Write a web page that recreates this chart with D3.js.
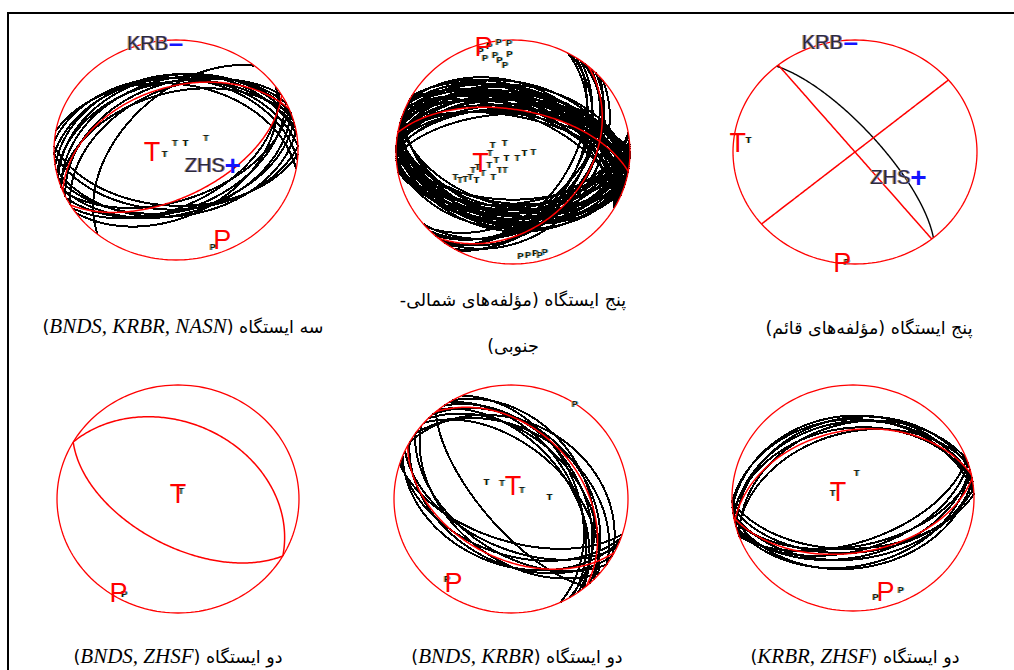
<!DOCTYPE html>
<html>
<head>
<meta charset="utf-8">
<script src="https://cdn.jsdelivr.net/npm/d3@7"></script>
<style>
  body { margin: 0; background: #fff; }
  #fig { position: relative; width: 1014px; height: 670px; overflow: hidden; background: #fff; }
  .cap { position: absolute; white-space: nowrap; transform: translate(-50%, -50%);
         font-family: "DejaVu Sans", sans-serif; font-size: 17.5px; color: #000; text-align: center; line-height: 46px; }
  .cap i { font-family: "Liberation Serif", serif; font-size: 21px; }
</style>
</head>
<body>
<div id="fig"></div>
<script>
// ---- Focal-mechanism solutions: nodal planes as [strike, dip] (degrees) ----
// Best-fit planes (red) and acceptable trial planes (black) for each station set.
const p1Best = [[248, 43], [60, 56]];
const p1Trials = [
  [240, 45], [245, 40], [250, 36], [252, 47], [255, 33], [258, 38], [262, 32], [268, 35], [275, 35], [280, 40],
  [55, 42], [58, 50], [64, 46], [68, 53], [70, 42], [75, 44], [80, 40], [88, 45], [92, 48],
  [220, 52]
];
const p2Best = [[280, 59], [40, 36]];
const p2Trials = [
  [268, 62], [270, 55], [272, 50], [273, 47], [275, 60], [276, 40], [278, 45], [280, 52], [281, 43], [282, 64], [284, 48],
  [285, 38], [286, 56], [288, 42], [289, 53], [290, 60], [292, 50], [294, 62], [295, 45], [297, 40], [298, 55], [300, 48],
  [271, 58], [274, 52], [277, 49], [279, 57], [283, 46], [287, 51], [291, 44], [293, 57], [296, 52], [299, 44], [279, 62],
  [80, 45], [82, 52], [84, 40], [86, 33], [88, 50], [90, 55], [92, 35], [95, 42], [96, 52], [98, 30], [100, 48],
  [102, 32], [104, 38], [108, 44], [110, 40],
  [81, 48], [85, 44], [87, 37], [91, 47], [93, 40], [97, 45], [99, 36], [101, 43], [105, 50], [106, 34],
  [28, 44], [30, 40], [33, 50], [35, 45], [36, 30], [38, 35], [42, 42], [45, 38], [48, 46], [50, 34]
];
const p3Best = [[141, 90], [50, 90]];
const p3Trials = [[320, 74]];
const p4Best = [[300, 35], [120, 57]];
const p4Trials = [];
const p5Best = [[320, 40], [118, 47]];
const p5Trials = [
  [312, 52], [315, 45], [318, 38], [322, 50], [325, 42], [328, 47], [330, 36], [335, 44], [305, 40],
  [108, 60], [110, 50], [112, 42], [115, 55], [120, 44], [125, 52], [130, 48],
  [140, 70], [300, 33]
];
const p6Best = [[258, 40], [80, 50]];
const p6Trials = [
  [250, 35], [255, 30], [260, 33], [265, 28], [252, 42], [262, 38], [268, 31],
  [70, 58], [72, 52], [75, 47], [78, 55], [82, 45], [85, 50], [88, 53], [75, 40], [80, 38]
];

// ---- T and P axes as [trend, plunge]; the first entry is the best solution ----
const p1T = [[265, 74], [248, 82], [352, 85], [52, 82], [66, 68]];
const p1P = [[155, 11], [161, 8]];
const p2T = [[251, 66], [246, 45], [241, 47], [240, 51], [239, 55], [245, 59], [246, 63], [267, 74], [290, 75],
             [320, 81], [228, 84], [243, 77], [215, 74], [203, 76], [143, 85], [95, 82], [90, 76], [217, 67],
             [231, 57], [234, 64], [240, 71]];
const p2P = [[345, 3], [343, 6], [348, 3], [353, 1], [358, 3], [352, 18], [355, 23], [350, 13], [344, 14], [358, 13],
             [176, 8], [172, 8], [168, 9], [163, 8], [166, 6]];
const p3T = [[275, 4], [277, 13]];
const p3P = [[186, 1], [184, 2]];
const p4T = [[0, 86], [20, 84]];
const p4P = [[211, 5], [208, 6]];
const p5T = [[8, 80], [306, 69], [331, 77], [50, 80], [87, 63]];
const p5P = [[214, 13], [218, 12], [33, 0]];
const p6T = [[293, 79], [285, 76], [8, 72]];
const p6P = [[162, 14], [168, 12], [154, 11]];

// ---- Station polarities: [name, polarity, trend, plunge] ----
const p1Stations = [["KRB", "-", 0, 3], ["ZHS", "+", 106, 50]];
const p3Stations = [["KRB", "-", 358, 2], ["ZHS", "+", 113, 43]];

// ---- Captions ----
const capPersian = [
  "سه ایستگاه",
  "پنج ایستگاه (مؤلفه‌های شمالی-|جنوبی)",
  "پنج ایستگاه (مؤلفه‌های قائم)",
  "دو ایستگاه",
  "دو ایستگاه",
  "دو ایستگاه"
];
const capStations = ["BNDS, KRBR, NASN", null, null, "BNDS, ZHSF", "BNDS, KRBR", "KRBR, ZHSF"];

// ---- Layout of the six stereonets ----
const layout = [
  { cx: 176, cy: 150, rx: 122, ry: 110, capX: 183, capY: 326 },
  { cx: 513, cy: 152, rx: 117, ry: 112, capX: 513, capY: 323 },
  { cx: 855, cy: 152, rx: 122, ry: 112, capX: 869, capY: 328 },
  { cx: 178, cy: 499, rx: 121, ry: 114, capX: 178, capY: 656 },
  { cx: 511, cy: 499, rx: 117, ry: 114, capX: 517, capY: 656 },
  { cx: 853, cy: 498, rx: 121, ry: 113, capX: 855, capY: 656 }
];

const panels = [
  { best: p1Best, trials: p1Trials, T: p1T, P: p1P, stations: p1Stations },
  { best: p2Best, trials: p2Trials, T: p2T, P: p2P, stations: [] },
  { best: p3Best, trials: p3Trials, T: p3T, P: p3P, stations: p3Stations },
  { best: p4Best, trials: p4Trials, T: p4T, P: p4P, stations: [] },
  { best: p5Best, trials: p5Trials, T: p5T, P: p5P, stations: [] },
  { best: p6Best, trials: p6Trials, T: p6T, P: p6P, stations: [] }
];

// Lower-hemisphere equal-area (Schmidt) net; the vertical axis is the projection centre.
function makeProjection(L) {
  const ky = L.ry / L.rx;
  const raw = (x, y) => { const p = d3.geoAzimuthalEqualAreaRaw(x, y); return [p[0], p[1] * ky]; };
  return d3.geoProjection(raw)
    .rotate([0, -90])
    .clipAngle(90)
    .scale(L.rx / Math.SQRT2)
    .translate([L.cx, L.cy])
    .precision(0.2);
}
// A line with a given trend/plunge as a point on the sphere.
const toLonLat = (trend, plunge) => [180 - trend, plunge];

// Great circle of a plane: all directions 90 degrees from its pole.
function planeLine(strike, dip) {
  const ring = d3.geoCircle()
    .center(toLonLat(strike - 90, 90 - dip))
    .radius(90)
    .precision(1)().coordinates[0];
  return { type: "LineString", coordinates: ring };
}

const fig = d3.select("#fig");
const svg = fig.append("svg")
  .attr("width", 1014).attr("height", 670)
  .style("position", "absolute").style("left", 0).style("top", 0);

// Colour-fringe filter for the small dark labels
const defs = svg.append("defs");
function fringeFilter(id, left, right) {
  const f = defs.append("filter").attr("id", id)
    .attr("x", "-30%").attr("y", "-30%").attr("width", "160%").attr("height", "160%");
  f.append("feOffset").attr("in", "SourceAlpha").attr("dx", -1).attr("dy", 0).attr("result", "aL");
  f.append("feFlood").attr("flood-color", left).attr("result", "cL");
  f.append("feComposite").attr("in", "cL").attr("in2", "aL").attr("operator", "in").attr("result", "fL");
  f.append("feOffset").attr("in", "SourceAlpha").attr("dx", 1).attr("dy", 0).attr("result", "aR");
  f.append("feFlood").attr("flood-color", right).attr("result", "cR");
  f.append("feComposite").attr("in", "cR").attr("in2", "aR").attr("operator", "in").attr("result", "fR");
  const m = f.append("feMerge");
  m.append("feMergeNode").attr("in", "fL");
  m.append("feMergeNode").attr("in", "fR");
  m.append("feMergeNode").attr("in", "SourceGraphic");
}
fringeFilter("fringe", "#f2a53a", "#49b9ee");
fringeFilter("fringeStation", "#d9a050", "#6a7ad8");

// Table frame
svg.append("path")
  .attr("d", "M8,670V13H1014")
  .attr("fill", "none").attr("stroke", "#000").attr("stroke-width", 2);

panels.forEach((pd, i) => {
  const L = layout[i];
  const proj = makeProjection(L);
  const path = d3.geoPath(proj);
  const g = svg.append("g");

  // trial nodal planes
  g.selectAll("path.trial").data(pd.trials).join("path")
    .attr("class", "trial")
    .attr("d", d => path(planeLine(d[0], d[1])))
    .attr("fill", "none").attr("stroke", "#000").attr("stroke-width", i === 2 ? 1.4 : 2)
    .attr("shape-rendering", i === 2 ? "auto" : "crispEdges");

  // primitive circle
  g.append("path").datum({ type: "Sphere" })
    .attr("d", path)
    .attr("fill", "none").attr("stroke", "#f00").attr("stroke-width", 1.3);

  // best nodal planes
  g.selectAll("path.best").data(pd.best).join("path")
    .attr("class", "best")
    .attr("d", d => path(planeLine(d[0], d[1])))
    .attr("fill", "none").attr("stroke", "#f00").attr("stroke-width", 1.5);

  // alternative T/P axes
  [["T", pd.T], ["P", pd.P]].forEach(([ch, arr]) => {
    g.selectAll(null).data(arr.slice(1)).join("text")
      .attr("x", d => proj(toLonLat(d[0], d[1]))[0])
      .attr("y", d => proj(toLonLat(d[0], d[1]))[1])
      .attr("text-anchor", "middle").attr("dy", "0.35em")
      .attr("font-family", "Liberation Sans, Arial, sans-serif")
      .attr("font-weight", "bold")
      .attr("font-size", 9)
      .attr("fill", "#1a1a1a")
      .attr("filter", "url(#fringe)")
      .text(ch);
  });
  // best T/P axes
  [["T", pd.T[0]], ["P", pd.P[0]]].forEach(([ch, d]) => {
    const [x, y] = proj(toLonLat(d[0], d[1]));
    g.append("text")
      .attr("x", x).attr("y", y)
      .attr("text-anchor", "middle").attr("dy", "0.35em")
      .attr("font-family", "Liberation Sans, Arial, sans-serif")
      .attr("font-size", 27)
      .attr("fill", "#f00")
      .text(ch);
  });

  // station polarities
  pd.stations.forEach(s => {
    const [x, y] = proj(toLonLat(s[2], s[3]));
    g.append("text")
      .attr("x", x - 8).attr("y", y)
      .attr("text-anchor", "end").attr("dy", "0.36em")
      .attr("font-family", "Liberation Sans, Arial, sans-serif")
      .attr("font-size", 20)
      .attr("fill", "#2a2a3a")
      .attr("filter", "url(#fringeStation)")
      .text(s[0]);
    g.append("text")
      .attr("x", x).attr("y", y)
      .attr("text-anchor", "middle").attr("dy", "0.36em")
      .attr("font-family", "Liberation Sans, Arial, sans-serif")
      .attr("font-weight", "bold")
      .attr("font-size", s[1] === "+" ? 28 : 26)
      .attr("fill", "#1414ff")
      .text(s[1] === "-" ? "\u2013" : "+");
  });

  // caption
  const cap = fig.append("div").attr("class", "cap").attr("dir", "rtl")
    .style("left", L.capX + "px").style("top", L.capY + "px");
  const lines = capPersian[i].split("|");
  lines.forEach((ln, k) => {
    if (k > 0) cap.append("br");
    cap.append("span").text(ln);
  });
  if (capStations[i]) {
    cap.append("span").text(" (");
    cap.append("i").text(capStations[i]);
    cap.append("span").text(")");
  }
});
</script>
</body>
</html>
